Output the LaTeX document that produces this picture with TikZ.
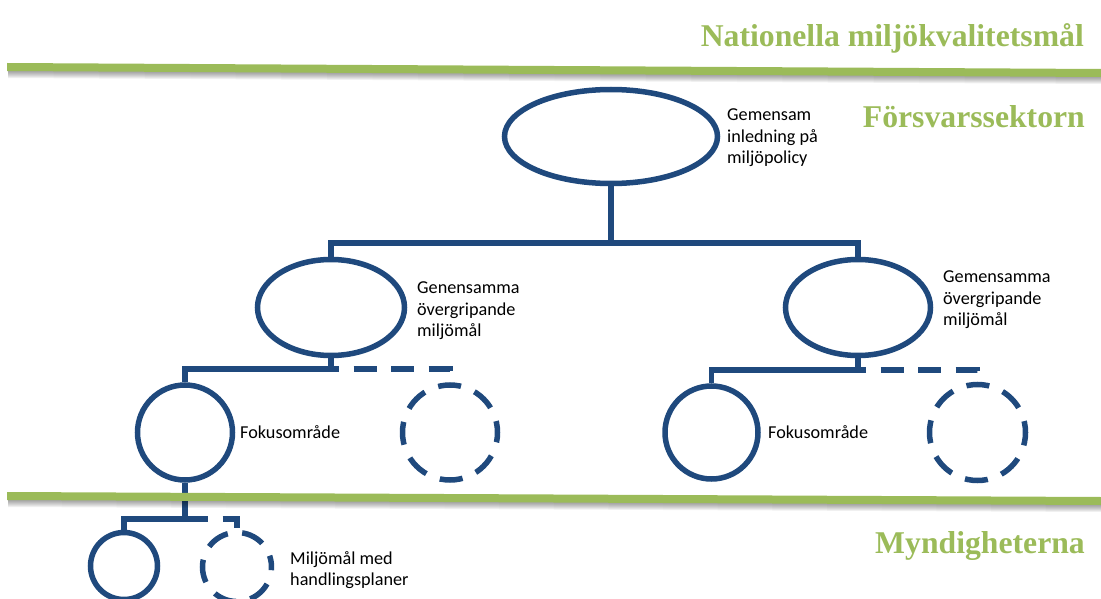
\documentclass[tikz,border=0pt]{standalone}
\usepackage{fontspec}
\setmainfont{Liberation Serif}
\newfontfamily\labfont{Carlito}
\usetikzlibrary{shapes.geometric}
\definecolor{barGreen}{HTML}{9BBB59}
\definecolor{lineBlue}{HTML}{1F497D}
\begin{document}
\begin{tikzpicture}[x=1pt,y=-1pt,
  blueline/.style={draw=lineBlue, line width=5.5pt},
  solidnode/.style={blueline, inner sep=0pt},
  dashline/.style={blueline, dash pattern=on 23pt off 14.5pt},
  dashcircle/.style={dashline, dash phase=11.5pt},
  lab/.style={font=\labfont\fontsize{18.2}{21.5}\selectfont, align=left, anchor=west, inner sep=0pt, text=black},
  title/.style={font=\bfseries\fontsize{31.7}{36}\selectfont, text=barGreen, anchor=base east, inner sep=0pt},
  shadowband/.style={fill=black, opacity=0.06},
  greenbar/.style={fill=barGreen}
]
\useasboundingbox (0,0) rectangle (1101,599);

% titles
\node[title] (n1) at (1084,47) {Nationella miljökvalitetsmål};
\node[title] (n2) at (1085,128) {Försvarssektorn};
\node[title] (n3) at (1085,553) {Myndigheterna};

% shapes
\node[ellipse, solidnode, minimum width=213pt, minimum height=94pt] (top) at (611,136.5) {};
\node[ellipse, solidnode, minimum width=147pt, minimum height=96pt] (e1) at (331,307.5) {};
\node[ellipse, solidnode, minimum width=145pt, minimum height=96pt] (e2) at (858,307.5) {};
\node[circle, solidnode, minimum size=95pt] (c1) at (185,432.5) {};
\node[circle, solidnode, dashcircle, minimum size=95pt] (d1) at (450,432.5) {};
\node[circle, solidnode, minimum size=93pt] (c2) at (711.5,432.5) {};
\node[circle, solidnode, dashcircle, minimum size=96pt] (d2) at (977.5,432.5) {};
\node[circle, solidnode, minimum size=67pt] (b1) at (124,566) {};
\node[circle, solidnode, dashcircle, minimum size=69pt] (b2) at (237,567) {};

% connectors
\coordinate (h1) at (611,243);
\draw[blueline] (top.south) -- (h1);
\draw[blueline] (e1.north) |- (h1) -| (e2.north);

\coordinate (h2) at (331,369);
\draw[blueline] (e1.south) -- (h2);
\draw[blueline] (c1.north) |- (h2);
\draw[dashline, dash phase=15pt] (h2) -| (d1.north);

\coordinate (h3) at (858,370);
\draw[blueline] (e2.south) -- (h3);
\draw[blueline] (c2.north) |- (h3);
\draw[dashline, dash phase=15pt] (h3) -| (d2.north);

\coordinate (h4) at (185,519);
\draw[blueline] (c1.south) -- (h4);
\draw[blueline] (b1.north) |- (h4);
\draw[dashline] (h4) -| (b2.north);

% labels
\node[lab] (t1) at (727,138) {Gemensam\\inledning på\\miljöpolicy};
\node[lab] (t2) at (417,311) {Genensamma\\övergripande\\miljömål};
\node[lab] (t3) at (943,300) {Gemensamma\\övergripande\\miljömål};
\node[lab] (f1) at (240,432) {Fokusområde};
\node[lab] (f2) at (768,432) {Fokusområde};
\node[lab] (m1) at (290,570) {Miljömål med\\handlingsplaner};

% green bars with shadows
\foreach \k in {1,...,7} {
  \fill[shadowband] (8,63+\k) -- (1101,69+\k) -- (1101,77+\k) -- (8,71+\k) -- cycle;
  \fill[shadowband] (8,492+\k) -- (1101,497+\k) -- (1101,505+\k) -- (8,500+\k) -- cycle;
}
\fill[greenbar] (7,63) -- (1101,69) -- (1101,77) -- (7,71) -- cycle;
\fill[greenbar] (7,492) -- (1101,497) -- (1101,505) -- (7,500) -- cycle;
\end{tikzpicture}
\end{document}
